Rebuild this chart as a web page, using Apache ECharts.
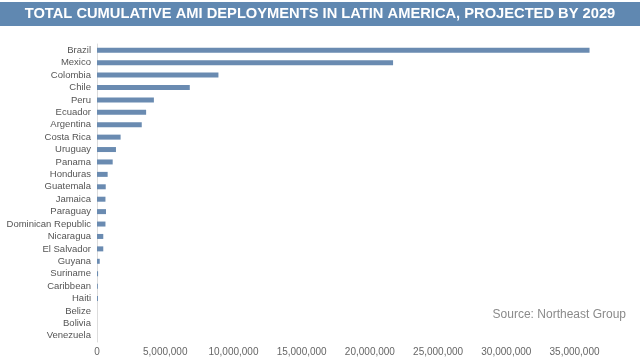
<!DOCTYPE html>
<html>
<head>
<meta charset="utf-8">
<script src="https://cdn.jsdelivr.net/npm/echarts@6/dist/echarts.min.js"></script>
<style>html,body{margin:0;padding:0;background:#fff}#c{width:640px;height:364px}</style>
</head>
<body>
<div id="c"></div>
<script>
const countries = ["Brazil","Mexico","Colombia","Chile","Peru","Ecuador","Argentina","Costa Rica","Uruguay","Panama","Honduras","Guatemala","Jamaica","Paraguay","Dominican Republic","Nicaragua","El Salvador","Guyana","Suriname","Caribbean","Haiti","Belize","Bolivia","Venezuela"];
const deployments = [36100000,21700000,8900000,6800000,4170000,3600000,3280000,1730000,1390000,1150000,780000,640000,620000,660000,620000,460000,460000,200000,80000,60000,70000,0,0,0];
const titleText = "TOTAL CUMULATIVE AMI DEPLOYMENTS IN LATIN AMERICA, PROJECTED BY 2029";
const sourceText = "Source: Northeast Group";

const chart = echarts.init(document.getElementById('c'), null, {renderer:'canvas'});
chart.setOption({
  animation:false,
  backgroundColor:'#fff',
  graphic:[
    {type:'rect', shape:{x:0,y:2,width:640,height:24}, style:{fill:'#6088b1'}, z:0},
    {type:'text', left:'center', top:6, style:{text:titleText, fill:'#fff', font:'bold 14.7px "Liberation Sans", Arial, sans-serif'}, z:1},
    {type:'text', right:14, top:309, style:{text:sourceText, fill:'#8a8a8a', font:'12px "Liberation Sans", Arial, sans-serif'}, z:1}
  ],
  grid:{left:97, right:45, top:44, bottom:22, containLabel:false},
  xAxis:{type:'value', min:0, max:36500000, interval:5000000,
    axisLine:{show:false}, axisTick:{show:false}, splitLine:{show:false},
    axisLabel:{showMaxLabel:false, color:'#666', fontSize:10, fontFamily:'Liberation Sans', margin:5,
      formatter:v=>v.toLocaleString('en-US')}},
  yAxis:{type:'category', data:countries, inverse:true,
    axisLine:{show:true, lineStyle:{color:'#dcdcdc', width:1}}, axisTick:{show:false},
    axisLabel:{interval:0, color:'#555', fontSize:9.5, fontFamily:'Liberation Sans', margin:6}},
  series:[{type:'bar', data:deployments, barWidth:5, itemStyle:{color:'#6a8bb1'}}]
});
</script>
</body>
</html>
